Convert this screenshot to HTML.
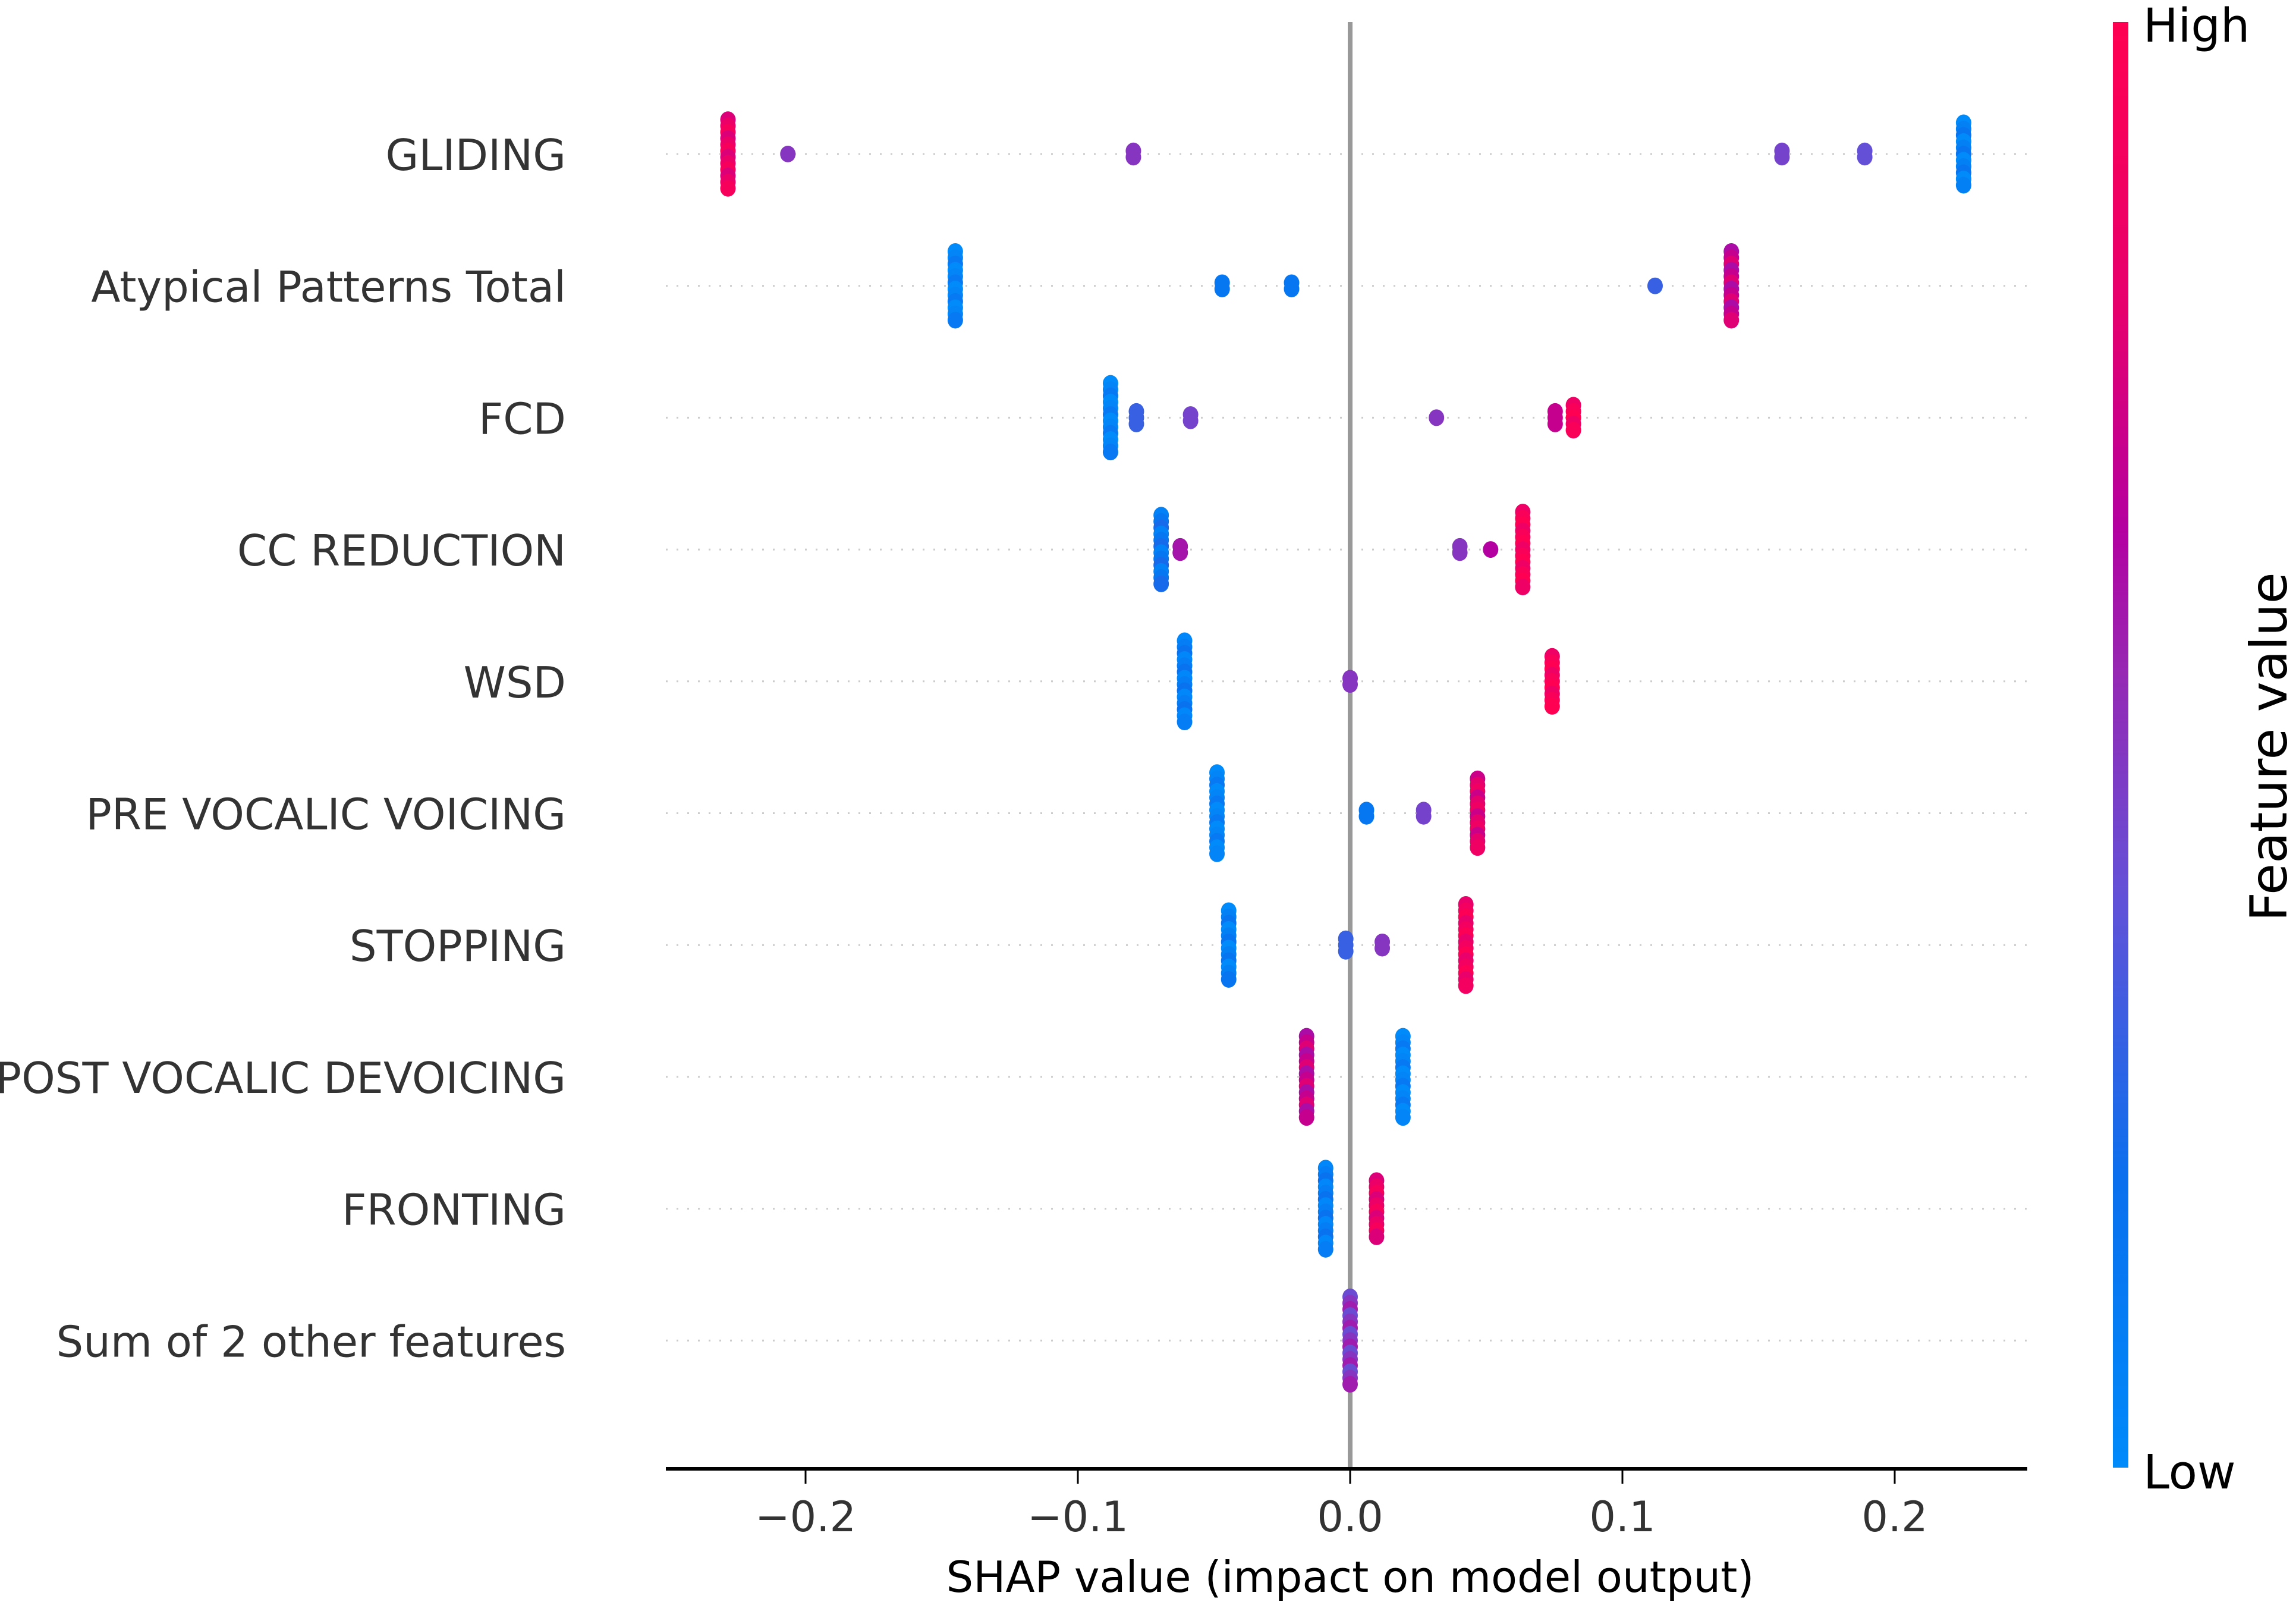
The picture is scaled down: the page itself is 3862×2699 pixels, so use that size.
<!DOCTYPE html>
<html><head><meta charset="utf-8"><style>
html,body{margin:0;padding:0;background:#fff;}
svg{display:block;font-family:"DejaVu Sans","Liberation Sans",sans-serif;}
</style></head><body>
<svg id="chart" width="3862" height="2699" viewBox="0 0 3862 2699" xmlns="http://www.w3.org/2000/svg">
<defs>
<linearGradient id="cbar" x1="0" y1="1" x2="0" y2="0">
<stop offset="0" stop-color="rgb(0,138,250)"/>
<stop offset="0.2" stop-color="rgb(10,112,238)"/>
<stop offset="0.4" stop-color="rgb(100,80,215)"/>
<stop offset="0.55" stop-color="rgb(150,40,180)"/>
<stop offset="0.65" stop-color="rgb(180,0,160)"/>
<stop offset="0.8" stop-color="rgb(230,0,110)"/>
<stop offset="1" stop-color="rgb(255,0,82)"/>
</linearGradient>
</defs>
<g id="grid"></g>
<line x1="2271" y1="37" x2="2271" y2="2470" stroke="#999" stroke-width="8"/>
<g id="dots"></g>
<g id="labels"></g>
<line x1="1120" y1="2470" x2="3410" y2="2470" stroke="#000" stroke-width="6"/>
<g id="xticks"></g>
<text x="2271" y="2677" text-anchor="middle" font-size="72" fill="#000">SHAP value (impact on model output)</text>
<rect x="3554" y="37" width="26" height="2431" fill="url(#cbar)"/>
<text x="3605" y="70" font-size="78" fill="#000">High</text>
<text x="3605" y="2503" font-size="79" fill="#000">Low</text>
<text transform="translate(3846,1256) rotate(-90)" text-anchor="middle" font-size="86" fill="#000">Feature value</text>
</svg>
<script>
const features = ["GLIDING","Atypical Patterns Total","FCD","CC REDUCTION","WSD","PRE VOCALIC VOICING","STOPPING","POST VOCALIC DEVOICING","FRONTING","Sum of 2 other features"];
// clusters per feature: SHAP value, point count, feature value (0 low .. 1 high)
const clusterValues = [
 [-0.2285,-0.2065,-0.0796,0.1586,0.189,0.2253],
 [-0.145,-0.047,-0.0215,0.112,0.14],
 [-0.088,-0.0785,-0.0586,0.0317,0.0753,0.082],
 [-0.0694,-0.0624,0.0403,0.0516,0.0634],
 [-0.0608,0.0,0.0742],
 [-0.0489,0.006,0.027,0.0468],
 [-0.0446,-0.0016,0.0118,0.0425],
 [-0.016,0.0194],
 [-0.009,0.0097],
 [0.0]
];
const clusterCounts = [
 [12,1,2,2,2,11],
 [12,2,2,1,12],
 [12,3,2,1,3,5],
 [12,2,2,1,13],
 [14,2,9],
 [14,2,2,12],
 [12,3,2,14],
 [14,14],
 [14,10],
 [15]
];
const clusterColors = [
 [0.85,0.5,0.5,0.45,0.4,0.08],
 [0.05,0.15,0.15,0.3,0.7],
 [0.05,0.3,0.45,0.5,0.7,0.95],
 [0.15,0.6,0.5,0.65,0.95],
 [0.1,0.5,0.95],
 [0.05,0.15,0.45,0.8],
 [0.08,0.3,0.5,0.9],
 [0.7,0.05],
 [0.1,0.85],
 [0.5]
];
const xTicks = [-0.2,-0.1,0.0,0.1,0.2];
const xTickLabels = ["\u22120.2","\u22120.1","0.0","0.1","0.2"];

const NS = "http://www.w3.org/2000/svg";
function xScale(v){ return 2271 + v * 4580; }
function yRow(i){ return 259 + i * 221.7; }
const stops = [[0,[0,138,250]],[0.2,[10,112,238]],[0.4,[100,80,215]],[0.55,[150,40,180]],[0.65,[180,0,160]],[0.8,[230,0,110]],[1,[255,0,82]]];
function cmap(t){
  t = Math.max(0, Math.min(1, t));
  for (let k = 1; k < stops.length; k++) {
    if (t <= stops[k][0]) {
      const a = stops[k-1], b = stops[k], f = (t - a[0]) / (b[0] - a[0]);
      const c = a[1].map((v, j) => Math.round(v + (b[1][j] - v) * f));
      return "rgb(" + c.join(",") + ")";
    }
  }
  return "rgb(255,0,82)";
}
const grid = document.getElementById("grid");
const dots = document.getElementById("dots");
const labels = document.getElementById("labels");
features.forEach((name, i) => {
  const y = yRow(i);
  const gl = document.createElementNS(NS, "line");
  gl.setAttribute("x1", 1120); gl.setAttribute("x2", 3410);
  gl.setAttribute("y1", y); gl.setAttribute("y2", y);
  gl.setAttribute("stroke", "#ccc"); gl.setAttribute("stroke-width", 3);
  gl.setAttribute("stroke-dasharray", "3 15");
  
  
  grid.appendChild(gl);
  const t = document.createElementNS(NS, "text");
  t.setAttribute("x", 952); t.setAttribute("y", y + 27);
  t.setAttribute("text-anchor", "end"); t.setAttribute("font-size", 72);
  t.setAttribute("fill", "#333");
  t.textContent = name;
  
  
  labels.appendChild(t);
  clusterValues[i].forEach((v, c) => {
    const n = clusterCounts[i][c], base = clusterColors[i][c];
    for (let k = 0; k < n; k++) {
      const off = (k - (n - 1) / 2) * 10.5;
      const col = n > 3 ? base + ((k % 3) - 1) * 0.08 : base;
      const e = document.createElementNS(NS, "ellipse");
      e.setAttribute("cx", xScale(v)); e.setAttribute("cy", y + off);
      e.setAttribute("rx", 13); e.setAttribute("ry", 14);
      e.setAttribute("fill", cmap(col));
      
      
      dots.appendChild(e);
    }
  });
});
const xt = document.getElementById("xticks");
xTicks.forEach((v, i) => {
  const x = xScale(v);
  const l = document.createElementNS(NS, "line");
  l.setAttribute("x1", x); l.setAttribute("x2", x);
  l.setAttribute("y1", 2470); l.setAttribute("y2", 2495);
  l.setAttribute("stroke", "#000"); l.setAttribute("stroke-width", 3);
  
  
  xt.appendChild(l);
  const t = document.createElementNS(NS, "text");
  t.setAttribute("x", x); t.setAttribute("y", 2575);
  t.setAttribute("text-anchor", "middle"); t.setAttribute("font-size", 70);
  t.setAttribute("fill", "#333");
  t.textContent = xTickLabels[i];
  
  
  xt.appendChild(t);
});
</script>
</body></html>
